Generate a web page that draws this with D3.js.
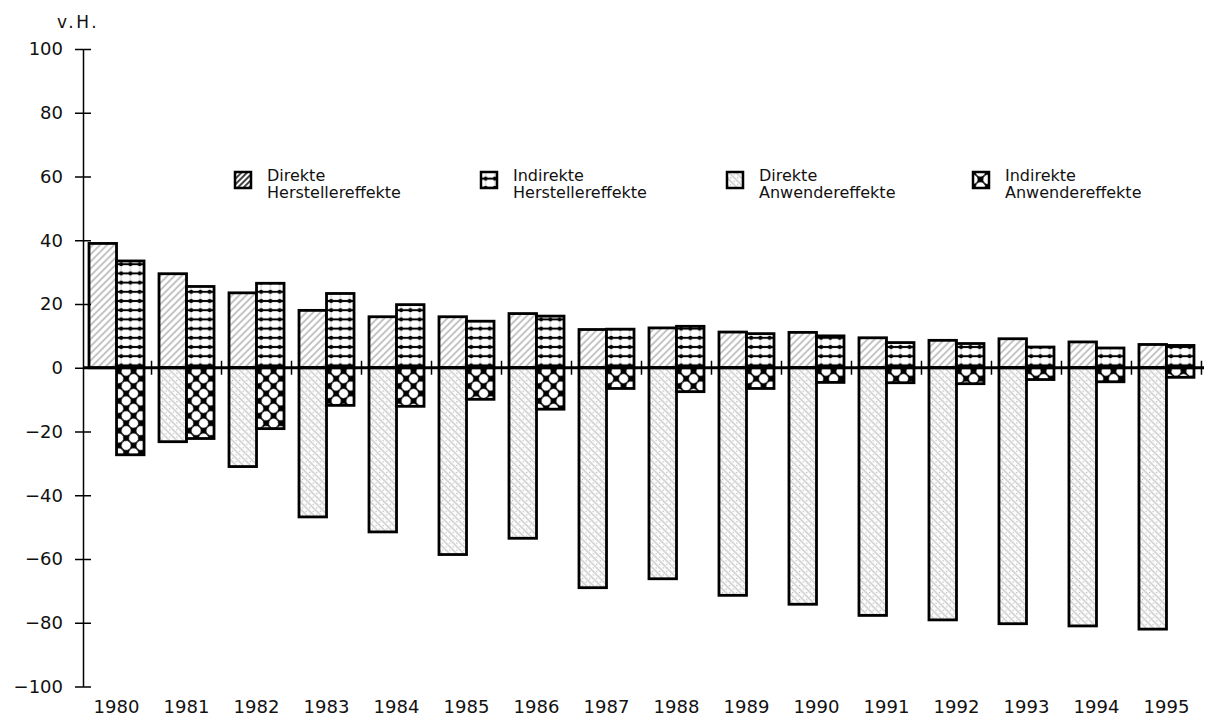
<!DOCTYPE html>
<html>
<head>
<meta charset="utf-8">
<script src="https://cdn.jsdelivr.net/npm/d3@7"></script>
<style>
    body { margin: 0; background: #fff; }
    svg { display: block; font-family: "DejaVu Sans", sans-serif; }
</style>
</head>
<body>
<svg id="chart" width="1205" height="723"></svg>
<script>
// Werte in v.H.
var years = ["1980", "1981", "1982", "1983", "1984", "1985", "1986", "1987",
             "1988", "1989", "1990", "1991", "1992", "1993", "1994", "1995"];
var direkteHersteller   = [39, 29.5, 23.5, 18, 16, 16, 17, 12, 12.5, 11.2, 11.1, 9.4, 8.6, 9.1, 8.1, 7.3];
var indirekteHersteller = [33.5, 25.5, 26.5, 23.3, 19.8, 14.6, 16.2, 12.1, 13, 10.7, 10, 7.9, 7.6, 6.5, 6.2, 7];
var direkteAnwender     = [0, -23.2, -31, -46.8, -51.5, -58.6, -53.5, -69, -66.2, -71.4, -74.2, -77.7, -79.1, -80.3, -81, -82];
var indirekteAnwender   = [-27.3, -22.2, -19.1, -11.8, -12.1, -9.9, -13, -6.5, -7.5, -6.5, -4.6, -4.7, -5, -3.7, -4.4, -3];
var yTicks = [-100, -80, -60, -40, -20, 0, 20, 40, 60, 80, 100];
var legendItems = [
    { lines: ["Direkte", "Herstellereffekte"], fill: "pDH" },
    { lines: ["Indirekte", "Herstellereffekte"], fill: "pIH" },
    { lines: ["Direkte", "Anwendereffekte"], fill: "pDA" },
    { lines: ["Indirekte", "Anwendereffekte"], fill: "pIA" }
];

var svg = d3.select("#chart"),
    defs = svg.append("defs");

var x0 = d3.scaleBand().domain(years).range([83, 1200]).paddingInner(0.214).paddingOuter(0.086),
    x1 = d3.scaleBand().domain(["l", "r"]).range([0, x0.bandwidth()]),
    y = d3.scaleLinear().domain([-100, 100]).range([686.5, 49]);

// Schraffuren
function hatch(id, angle, color, width, gap, dots) {
    var p = defs.append("pattern")
        .attr("id", id)
        .attr("patternUnits", "userSpaceOnUse")
        .attr("width", gap).attr("height", gap)
        .attr("patternTransform", "rotate(" + angle + ")");
    p.append("rect").attr("width", gap).attr("height", gap).attr("fill", "#fff");
    p.append("line").attr("x1", 1).attr("x2", 1).attr("y1", 0).attr("y2", gap)
        .attr("stroke", color).attr("stroke-width", width);
    if (dots) {
        p.append("circle").attr("cx", gap / 2 + 1).attr("cy", gap / 3).attr("r", 0.6).attr("fill", "#aaa");
    }
}
hatch("pDH", 45, "#8a8a8a", 1, 5, false);
hatch("pDA", -45, "#b0b0b0", 1, 5, true);
hatch("pDHdark", 45, "#111", 1.6, 4, false);

var pih = defs.append("pattern")
    .attr("id", "pIH")
    .attr("patternUnits", "userSpaceOnUse")
    .attr("width", 9.2).attr("height", 9.2)
    .attr("y", 2);
pih.append("rect").attr("width", 9.2).attr("height", 9.2).attr("fill", "#fff");
pih.append("line").attr("x1", 4.6).attr("x2", 4.6).attr("y1", 0).attr("y2", 9.2)
    .attr("stroke", "#bbb").attr("stroke-width", 0.8);
pih.append("line").attr("x1", 0).attr("x2", 9.2).attr("y1", 4.6).attr("y2", 4.6)
    .attr("stroke", "#000").attr("stroke-width", 2);
pih.append("circle").attr("cx", 4.6).attr("cy", 4.6).attr("r", 2).attr("fill", "#000");

var pia = defs.append("pattern")
    .attr("id", "pIA")
    .attr("patternUnits", "userSpaceOnUse")
    .attr("width", 10.5).attr("height", 10.5)
    .attr("patternTransform", "rotate(45)");
pia.append("rect").attr("width", 10.5).attr("height", 10.5).attr("fill", "#000");
pia.append("circle").attr("cx", 5.25).attr("cy", 5.25).attr("r", 4.6).attr("fill", "#fff");

// Balken
var groups = svg.append("g")
    .selectAll("g")
    .data(years)
    .join("g")
    .attr("transform", function (d) { return "translate(" + x0(d) + ",0)"; });

function barData(d, i) {
    return [
        { side: "l", value: direkteHersteller[i], fill: "pDH" },
        { side: "r", value: indirekteHersteller[i], fill: "pIH" },
        { side: "l", value: direkteAnwender[i], fill: "pDA" },
        { side: "r", value: indirekteAnwender[i], fill: "pIA" }
    ].filter(function (b) { return b.value !== 0; });
}

groups.selectAll("rect")
    .data(function (d) { return barData(d, years.indexOf(d)); })
    .join("rect")
    .attr("x", function (d) { return x1(d.side); })
    .attr("width", x1.bandwidth())
    .attr("y", function (d) { return y(Math.max(0, d.value)); })
    .attr("height", function (d) { return Math.abs(y(d.value) - y(0)); })
    .attr("fill", function (d) { return "url(#" + d.fill + ")"; })
    .attr("stroke", "#000")
    .attr("stroke-width", 2.8);

// y-Achse
var yAxis = svg.append("g")
    .attr("transform", "translate(83,0)")
    .call(d3.axisLeft(y).tickValues(yTicks).tickSize(8).tickSizeOuter(0).tickPadding(12));
yAxis.select(".domain").attr("stroke-width", 1.5);
yAxis.selectAll(".tick line").attr("x1", 8).attr("stroke-width", 1.5);
yAxis.selectAll(".tick text").attr("font-size", 18).attr("fill", "#111")
    .attr("font-family", "DejaVu Sans");

svg.append("text")
    .attr("x", 57).attr("y", 28)
    .attr("font-size", 17).attr("letter-spacing", 2.5).attr("fill", "#111")
    .text("v.H.");

// Nulllinie mit Trennstrichen
var step = x0.step(), bw = x0.bandwidth();
svg.append("line")
    .attr("x1", 83).attr("x2", 1204)
    .attr("y1", y(0)).attr("y2", y(0))
    .attr("stroke", "#000").attr("stroke-width", 3.2);
svg.append("g")
    .selectAll("line")
    .data(years)
    .join("line")
    .attr("x1", function (d) { return x0(d) + bw + (step - bw) / 2; })
    .attr("x2", function (d) { return x0(d) + bw + (step - bw) / 2; })
    .attr("y1", y(0) - 7).attr("y2", y(0) + 7)
    .attr("stroke", "#000").attr("stroke-width", 1.5);

// Jahre
var xAxis = svg.append("g")
    .attr("transform", "translate(0,686)")
    .call(d3.axisBottom(x0).tickSize(0).tickPadding(14));
xAxis.select(".domain").remove();
xAxis.selectAll(".tick text").attr("font-size", 18).attr("fill", "#111")
    .attr("font-family", "DejaVu Sans");

// Legende
var legend = svg.append("g")
    .selectAll("g")
    .data(legendItems)
    .join("g")
    .attr("transform", function (d, i) { return "translate(" + (235 + i * 246) + ",172)"; });

legend.append("rect")
    .attr("width", 16).attr("height", 16)
    .attr("fill", function (d) { return d.fill === "pDH" ? "url(#pDHdark)" : "url(#" + d.fill + ")"; })
    .attr("stroke", "#000").attr("stroke-width", 2.5);

legend.append("text")
    .attr("x", 32).attr("y", 9)
    .attr("font-size", 16).attr("fill", "#111")
    .selectAll("tspan")
    .data(function (d) { return d.lines; })
    .join("tspan")
    .attr("x", 32)
    .attr("dy", function (d, i) { return i === 0 ? 0 : 17; })
    .text(function (d) { return d; });
</script>
</body>
</html>
